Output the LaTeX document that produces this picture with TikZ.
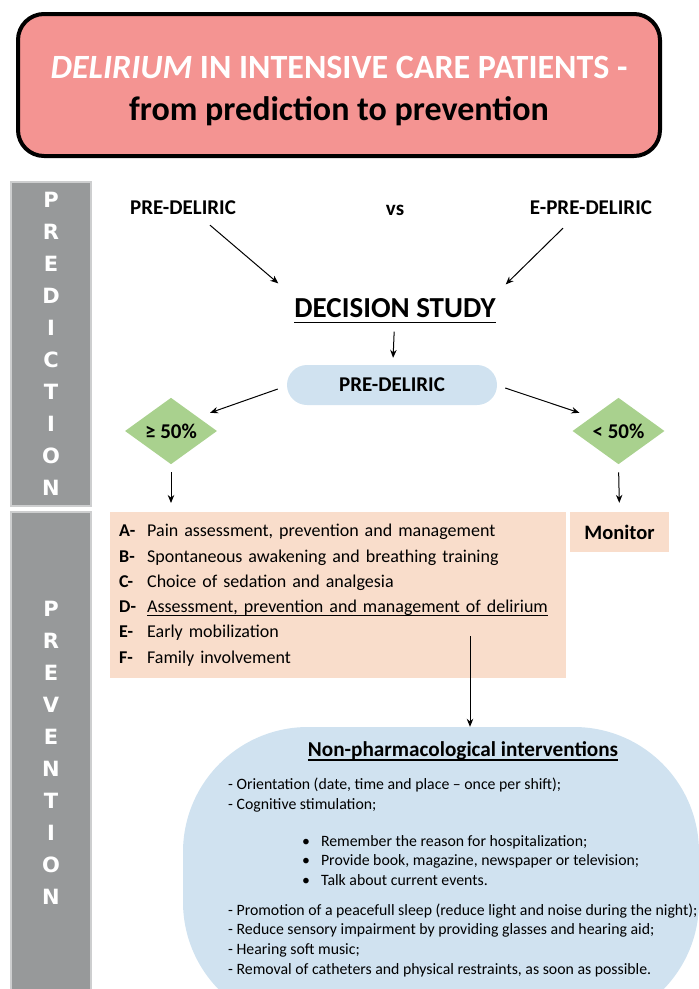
\documentclass[tikz,border=0pt]{standalone}
\usepackage{fontspec}
\setmainfont{Carlito}
\newfontfamily\sidefont{DejaVu Sans}
\usepackage{tikz}
\usetikzlibrary{arrows.meta,shapes.geometric,positioning,calc}
\definecolor{titlered} {RGB}{244,148,146}
\definecolor{sidegray} {RGB}{151,153,154}
\definecolor{sideedge} {RGB}{205,206,207}
\definecolor{predblue} {RGB}{208,226,240}
\definecolor{cutgreen} {RGB}{169,209,142}
\definecolor{steppeach}{RGB}{249,221,203}
\newsavebox\ulbox
\newcommand\wordul[1]{\sbox\ulbox{#1}\usebox\ulbox\llap{\rule[-0.2em]{\wd\ulbox}{1.5pt}}}
\newcommand\steplbl[1]{\makebox[28pt][l]{\bfseries #1}}
\newcommand\npbullet{\hspace*{74pt}\textbullet\hspace{11pt}}
\tikzset{
  lbl/.style    ={inner sep=0pt, font=\fontsize{21}{24}\selectfont\bfseries},
  titlebox/.style={draw=black, line width=4pt, rounded corners=26pt,
                  fill=titlered, minimum width=642pt, minimum height=142pt,
                  align=center, font=\fontsize{34}{42}\selectfont\bfseries},
  sidebar/.style={draw=sideedge, line width=2pt, fill=sidegray,
                  minimum width=80pt, align=center, text=white,
                  font=\sidefont\fontsize{21}{32}\selectfont\bfseries},
  predbox/.style={lbl, fill=predblue, rounded corners=20pt,
                  minimum width=210pt, minimum height=40pt},
  cutoff/.style ={lbl, diamond, fill=cutgreen,
                  minimum width=92pt, minimum height=66pt},
  stepbox/.style={fill=steppeach, inner sep=0pt},
  blob/.style   ={fill=predblue, rounded corners=125pt,
                  minimum width=516pt, minimum height=300pt},
  nptext/.style ={inner sep=0pt, align=left,
                  font=\fontsize{15.8}{19.7}\selectfont},
  arr/.style    ={-{Stealth[length=8pt,width=6.5pt]}, line width=1pt},
}
\begin{document}
\begin{tikzpicture}[x=1pt, y=-1pt]
  \useasboundingbox (0,0) rectangle (699,989);

  \node[titlebox] (title) at (339,85)
        {\rule{0pt}{35pt}{\color{white}\textit{DELIRIUM} IN INTENSIVE CARE PATIENTS -}\\
         from prediction to prevention};

  % side bars
  \node[sidebar, minimum height=324pt] (predbar) at (51,344)
        {P\\R\\E\\D\\I\\C\\T\\I\\O\\N};
  \node[sidebar, minimum height=482pt] (prevbar) at (51,753)
        {P\\R\\E\\V\\E\\N\\T\\I\\O\\N};

  % prediction
  \node[lbl] (pdeliric)  at (183,208) {PRE-DELIRIC};
  \node[lbl] (vs)        at (395,210) {vs};
  \node[lbl] (epdeliric) at (591,208) {E-PRE-DELIRIC};
  \node[lbl, font=\fontsize{29}{32}\selectfont\bfseries] (decision)
        at (395,311) {\wordul{DECISION STUDY}};
  \node[predbox] (predeliric) at (392,385) {PRE-DELIRIC};
  \node[cutoff] (cuthi) at (171,431) {≥ 50\%};
  \node[cutoff] (cutlo) at (618.5,431) {< 50\%};

  % prevention
  \node[stepbox, anchor=north west, text width=438pt, minimum height=166pt,
        inner xsep=9pt, align=left, font=\fontsize{18}{25.3}\selectfont]
        (steps) at (110,512)
        {\steplbl{A-}Pain assessment, prevention and management\\
         \steplbl{B-}Spontaneous awakening and breathing training\\
         \steplbl{C-}Choice of sedation and analgesia\\
         \steplbl{D-}\wordul{Assessment, prevention and management of delirium}\\
         \steplbl{E-}Early mobilization\\
         \steplbl{F-}Family involvement};
  \node[stepbox, minimum width=99pt, minimum height=40pt,
        font=\fontsize{20.5}{24}\selectfont\bfseries]
        (monitor) at (619.5,532) {Monitor};
  \coordinate (dstart) at (470,636);

  \node[blob] (nonpharm) at (441,877) {};
  \node[lbl, font=\fontsize{21.2}{24}\selectfont\bfseries] (nphead)
        at (463,751) {\wordul{Non-pharmacological interventions}};
  \node[nptext, anchor=north west] (nplist) at (228,778)
        {- Orientation (date, time and place -- once per shift);\\
         - Cognitive stimulation;\\[17pt]
         \npbullet Remember the reason for hospitalization;\\
         \npbullet Provide book, magazine, newspaper or television;\\
         \npbullet Talk about current events.\\[10pt]
         - Promotion of a peacefull sleep (reduce light and noise during the night);\\
         - Reduce sensory impairment by providing glasses and hearing aid;\\
         - Hearing soft music;\\
         - Removal of catheters and physical restraints, as soon as possible.};

  \draw[arr]([xshift=27pt,yshift=-10pt]pdeliric.south)
            --([xshift=-16pt,yshift=15pt]decision.north west);
  \draw[arr]([xshift=-28pt,yshift=-13pt]epdeliric.south)
            --([xshift=10pt,yshift=14pt]decision.north east);
  \draw[arr, shorten <=8pt, shorten >=7pt](decision)--(predeliric);
  \draw[arr]([xshift=-9pt,yshift=-4pt]predeliric.west)
            --([xshift=16pt,yshift=1.5pt]cuthi.north east);
  \draw[arr]([xshift=8pt,yshift=-3pt]predeliric.east)
            --([xshift=-16pt,yshift=1.5pt]cutlo.north west);
  \draw[arr, shorten <=8pt, shorten >=9pt](cuthi.south)--(cuthi.south |- steps.north);
  \draw[arr, shorten <=8pt, shorten >=9pt](cutlo.south)--(monitor.north);
  \draw[arr](dstart)--(dstart |- nonpharm.north);
\end{tikzpicture}
\end{document}
